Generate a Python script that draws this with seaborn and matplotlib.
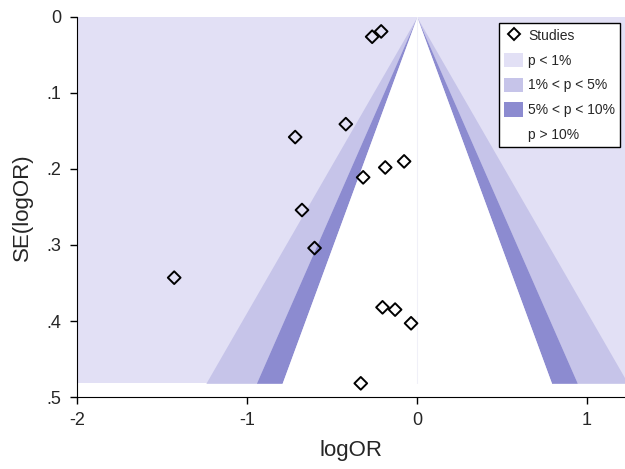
import numpy as np
import pandas as pd
import matplotlib
matplotlib.use('Agg')
import matplotlib.pyplot as plt
from matplotlib.patches import Patch
from matplotlib.lines import Line2D
import seaborn as sns

# estudos (log odds ratio e erro padrão)
log_or = [-0.263, -0.210, -0.418, -0.716, -0.075, -0.186, -0.316,
          -0.676, -0.602, -1.428, -0.202, -0.128, -0.034, -0.330]
se_log_or = [0.026, 0.019, 0.141, 0.158, 0.190, 0.198, 0.211,
             0.254, 0.304, 0.343, 0.382, 0.385, 0.403, 0.482]

# limites de significância (z) e cores dos contornos
z_1 = 2.576
z_5 = 1.96
z_10 = 1.645
cor_1 = '#e2e0f5'
cor_5 = '#c6c4e9'
cor_10 = '#8c8bd0'

dados = pd.DataFrame({'logOR': log_or, 'SE': se_log_or})

sns.set_style('ticks')
plt.rcParams['font.family'] = ['Liberation Sans', 'DejaVu Sans']

fig = plt.figure(figsize=(6.25, 4.69), dpi=100)
ax = fig.add_axes([0.1232, 0.1535, 0.8768, 0.8103])

x_min, x_max = -2.0, 1.225
se_max = max(se_log_or)
se = np.array([0, se_max])

# fundo p < 1%
ax.fill_between([x_min, x_max], 0, se_max, color=cor_1, lw=0, zorder=0)
# 1% < p < 5%
ax.fill_betweenx(se, -z_1 * se, -z_5 * se, color=cor_5, lw=0, zorder=1)
ax.fill_betweenx(se, z_5 * se, z_1 * se, color=cor_5, lw=0, zorder=1)
# 5% < p < 10%
ax.fill_betweenx(se, -z_5 * se, -z_10 * se, color=cor_10, lw=0, zorder=1)
ax.fill_betweenx(se, z_10 * se, z_5 * se, color=cor_10, lw=0, zorder=1)
# p > 10%
ax.fill_betweenx(se, -z_10 * se, z_10 * se, color='white', lw=0, zorder=1)
ax.plot([0, 0], [0, se_max], color='#f0f0f8', lw=0.8, zorder=1)

sns.scatterplot(data=dados, x='logOR', y='SE', marker='D', s=42,
                facecolor='none', edgecolor='black', linewidth=1.4,
                ax=ax, zorder=3)

ax.set_xlim(x_min, x_max)
ax.set_ylim(0.5, 0)
ax.set_xticks([-2, -1, 0, 1])
ax.set_xticklabels(['-2', '-1', '0', '1'])
ax.set_yticks([0, 0.1, 0.2, 0.3, 0.4, 0.5])
ax.set_yticklabels(['0', '.1', '.2', '.3', '.4', '.5'], rotation=0)
ax.tick_params(axis='both', labelsize=13, length=5, width=1, color='black', pad=6)
ax.set_xlabel('logOR', fontsize=16, labelpad=8)
ax.set_ylabel('SE(logOR)', fontsize=16, labelpad=10)

sns.despine(ax=ax, top=True, right=True)
ax.spines['left'].set_color('black')
ax.spines['bottom'].set_color('black')

itens = [
    Line2D([0], [0], marker='D', color='none', markerfacecolor='none',
           markeredgecolor='black', markeredgewidth=1.4, markersize=6.5, label='Studies'),
    Patch(facecolor=cor_1, edgecolor='none', label='p < 1%'),
    Patch(facecolor=cor_5, edgecolor='none', label='1% < p < 5%'),
    Patch(facecolor=cor_10, edgecolor='none', label='5% < p < 10%'),
    Patch(facecolor='white', edgecolor='none', label='p > 10%'),
]
leg = ax.legend(handles=itens, loc='upper right', bbox_to_anchor=(0.991, 0.984),
                fontsize=10, frameon=True, fancybox=False, framealpha=1,
                edgecolor='black', borderpad=0.35, labelspacing=0.72,
                handlelength=1.4, handleheight=1.2, handletextpad=0.35,
                borderaxespad=0)
leg.get_frame().set_linewidth(1)

plt.savefig('out.png', dpi=100)
